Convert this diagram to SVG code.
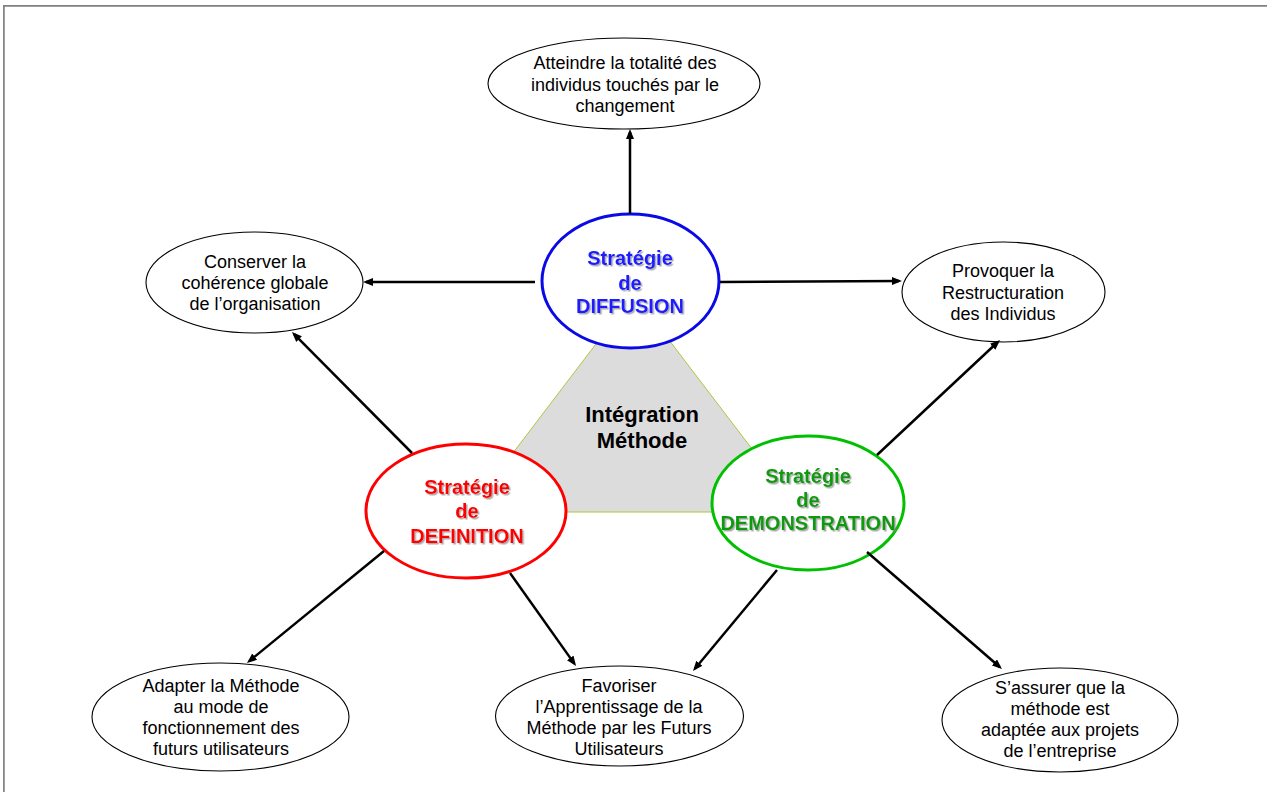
<svg xmlns="http://www.w3.org/2000/svg" width="1267" height="792" viewBox="0 0 1267 792">
<defs>
<style>
.goal{fill:#fff;stroke:#000;stroke-width:1.1}
.gt{font-family:"Liberation Sans",Arial,sans-serif;font-size:18px;fill:#000;text-anchor:middle}
.st{font-family:"Liberation Sans",Arial,sans-serif;font-size:20px;font-weight:bold;text-anchor:middle;filter:url(#sh)}
.conn line{stroke:#000;stroke-width:2.5;marker-end:url(#ah)}
</style>
<marker id="ah" markerUnits="userSpaceOnUse" markerWidth="10" markerHeight="8" refX="7" refY="4" orient="auto">
<path d="M0,0 L10,4 L0,8 z" fill="#000"/>
</marker>
<filter id="sh" x="-10%" y="-20%" width="130%" height="150%">
<feDropShadow dx="1.5" dy="1.5" stdDeviation="0.6" flood-color="#888" flood-opacity="0.7"/>
</filter>
</defs>
<rect width="1267" height="792" fill="#fff"/>
<path d="M3.9,792 V5.8 H1267" fill="none" stroke="#808080" stroke-width="1.7"/>

<g id="integration">
<polygon points="634,294 468,512 800,512" fill="#dcdcdc" stroke="#a8c840" stroke-width="1"/>
<text x="642" y="422" font-family="Liberation Sans,Arial,sans-serif" font-size="22" font-weight="bold" text-anchor="middle">Intégration</text>
<text x="642" y="448" font-family="Liberation Sans,Arial,sans-serif" font-size="22" font-weight="bold" text-anchor="middle">Méthode</text>
</g>

<g id="diffusion">
<ellipse cx="630.5" cy="281" rx="88.5" ry="67" fill="#fff" stroke="#0a0ae6" stroke-width="3"/>
<text class="st" fill="#1a1aff" x="630" y="265">Stratégie</text>
<text class="st" fill="#1a1aff" x="630" y="290">de</text>
<text class="st" fill="#1a1aff" x="630" y="313">DIFFUSION</text>
</g>

<g id="definition">
<ellipse cx="466" cy="511" rx="100" ry="67" fill="#fff" stroke="#ff0000" stroke-width="3"/>
<text class="st" fill="#ff0000" x="467" y="494">Stratégie</text>
<text class="st" fill="#ff0000" x="467" y="518">de</text>
<text class="st" fill="#ff0000" x="467" y="543">DEFINITION</text>
</g>

<g id="demonstration">
<ellipse cx="808" cy="503" rx="96" ry="67" fill="#fff" stroke="#00c000" stroke-width="3"/>
<text class="st" fill="#109a10" x="808" y="483">Stratégie</text>
<text class="st" fill="#109a10" x="808" y="507">de</text>
<text class="st" fill="#109a10" x="808" y="530">DEMONSTRATION</text>
</g>

<g id="atteindre">
<ellipse class="goal" cx="624" cy="83.5" rx="136" ry="45.5"/>
<text class="gt" x="625" y="69">Atteindre la totalité des</text>
<text class="gt" x="625" y="91">individus touchés par le</text>
<text class="gt" x="625" y="112">changement</text>
</g>

<g id="conserver">
<ellipse class="goal" cx="254.5" cy="282.5" rx="108.5" ry="50.5"/>
<text class="gt" x="255" y="268">Conserver la</text>
<text class="gt" x="255" y="289">cohérence globale</text>
<text class="gt" x="255" y="310">de l’organisation</text>
</g>

<g id="provoquer">
<ellipse class="goal" cx="1003.5" cy="292" rx="101.5" ry="50"/>
<text class="gt" x="1003" y="277">Provoquer la</text>
<text class="gt" x="1003" y="298.5">Restructuration</text>
<text class="gt" x="1003" y="320">des Individus</text>
</g>

<g id="adapter">
<ellipse class="goal" cx="220.5" cy="717" rx="128.5" ry="54"/>
<text class="gt" x="221" y="692">Adapter la Méthode</text>
<text class="gt" x="221" y="713">au mode de</text>
<text class="gt" x="221" y="734">fonctionnement des</text>
<text class="gt" x="221" y="755">futurs utilisateurs</text>
</g>

<g id="favoriser">
<ellipse class="goal" cx="619.5" cy="716" rx="124" ry="50"/>
<text class="gt" x="619" y="692">Favoriser</text>
<text class="gt" x="619" y="713">l’Apprentissage de la</text>
<text class="gt" x="619" y="734">Méthode par les Futurs</text>
<text class="gt" x="619" y="755">Utilisateurs</text>
</g>

<g id="assurer">
<ellipse class="goal" cx="1060" cy="720" rx="118" ry="52"/>
<text class="gt" x="1060" y="694">S’assurer que la</text>
<text class="gt" x="1060" y="715">méthode est</text>
<text class="gt" x="1060" y="736">adaptée aux projets</text>
<text class="gt" x="1060" y="757">de l’entreprise</text>
</g>

<g id="connectors" class="conn">
<line x1="630" y1="214" x2="630" y2="132"/>
<line x1="535" y1="282" x2="366" y2="282"/>
<line x1="720" y1="282" x2="899" y2="281"/>
<line x1="877" y1="455" x2="997.8" y2="342"/>
<line x1="412" y1="453" x2="294.1" y2="334.1"/>
<line x1="384" y1="551" x2="249.3" y2="661.1"/>
<line x1="510" y1="573" x2="574.3" y2="663.6"/>
<line x1="777" y1="570" x2="694.9" y2="668.7"/>
<line x1="867" y1="552" x2="999.7" y2="667"/>
</g>
</svg>
